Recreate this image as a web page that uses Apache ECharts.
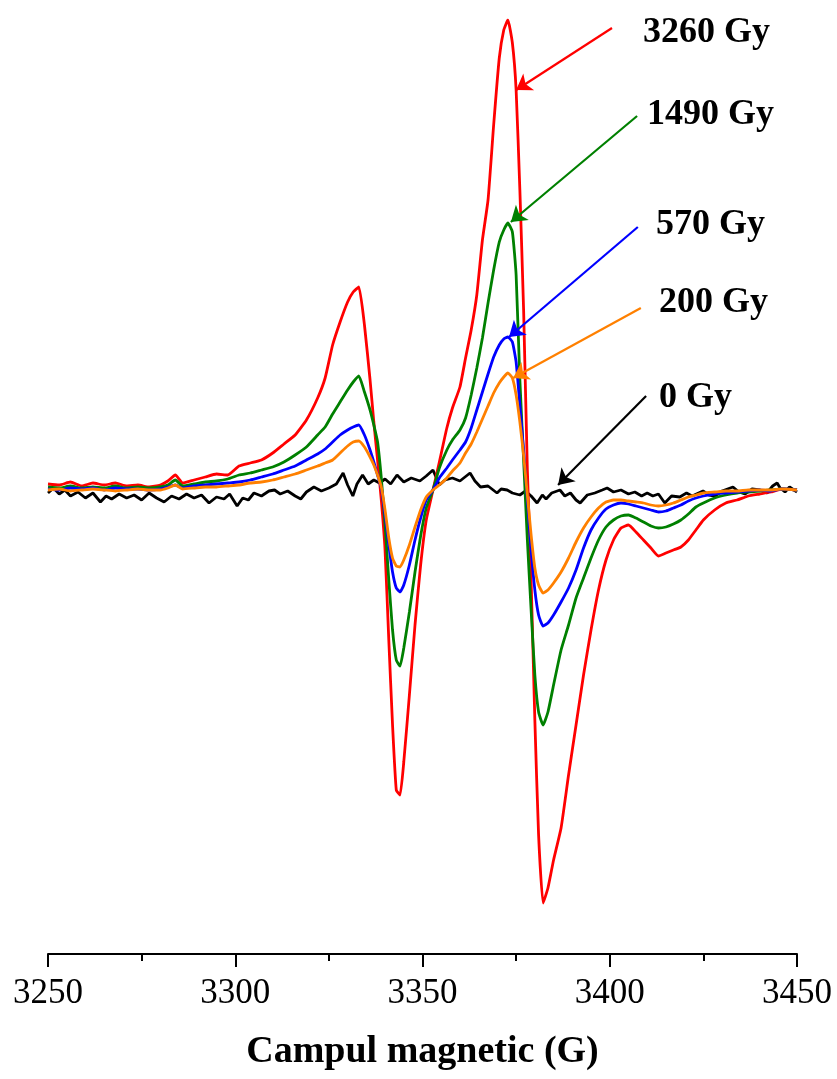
<!DOCTYPE html>
<html>
<head>
<meta charset="utf-8">
<script src="https://cdn.jsdelivr.net/npm/echarts@6/dist/echarts.min.js"></script>
<style>
html,body{margin:0;padding:0;background:#fff;}
#chart{width:837px;height:1079px;}
</style>
</head>
<body>
<div id="chart"></div>
<script>
// Magnetic field (G) for the irradiated samples
const field = [
  3250, 3253, 3256, 3259, 3262, 3265, 3268, 3271, 3274, 3277,
  3280, 3282, 3284, 3286, 3289, 3292, 3295, 3298, 3301, 3304,
  3307, 3310, 3313, 3316, 3319, 3322, 3324, 3326, 3328, 3330,
  3331.5, 3333, 3334.5, 3336, 3337, 3338, 3339, 3340, 3341, 3342,
  3343, 3344, 3345, 3346.5, 3348, 3349.5, 3351, 3352.8, 3354.5, 3356.5,
  3358, 3360, 3361.5, 3363, 3364.5, 3366, 3367.5, 3369, 3370.5, 3371.7,
  3372.8, 3374, 3375, 3376, 3377, 3378, 3379, 3380, 3381, 3382.2,
  3383.5, 3385, 3387, 3389, 3391, 3393, 3395, 3397, 3399, 3401,
  3403, 3405, 3407, 3409, 3411, 3413, 3415, 3417, 3419, 3421,
  3423, 3425, 3428, 3431, 3434, 3437, 3440, 3443, 3446, 3450
];
const dose3260 = [
  6, 5, 8, 4, 7, 5, 7, 4, 5, 3,
  5, 9, 15, 7, 10, 13, 16, 15, 24, 27,
  30, 37, 46, 55, 70, 92, 112, 145, 168, 188,
  198, 203, 165, 110, 68, 30, -10, -60, -150, -235,
  -300, -305, -272, -205, -135, -75, -30, 0, 28, 62,
  82, 103, 132, 160, 195, 250, 290, 365, 432, 460,
  470, 447, 400, 300, 180, 20, -90, -230, -345, -413,
  -398, -370, -338, -285, -235, -185, -140, -100, -70, -50,
  -38, -35, -42, -50, -58, -66, -63, -60, -57, -50,
  -40, -30, -20, -13, -10, -6, -4, -2, 1, 0
];
const dose1490 = [
  3, 2, 4, 2, 3, 2, 4, 2, 3, 2,
  3, 5, 10, 4, 6, 8, 9, 11, 15, 17,
  20, 23, 28, 35, 43, 55, 63, 76, 88, 100,
  108, 114, 98, 80, 65, 48, 12, -35, -90, -140,
  -170, -176, -158, -122, -82, -46, -18, 0, 22, 40,
  50, 60, 72, 95, 122, 152, 187, 220, 248, 260,
  267, 258, 215, 110, 30, -50, -120, -185, -222, -235,
  -222, -195, -160, -135, -108, -88, -68, -50, -37, -30,
  -26, -25, -28, -32, -36, -38, -37, -34, -30, -24,
  -17, -13, -8, -5, -3, -2, -1, 0, 1, 0
];
const dose570 = [
  1, 0, 2, 1, 2, 0, 2, 1, 1, 0,
  1, 3, 5, 2, 4, 5, 6, 7, 8, 10,
  13, 16, 20, 24, 30, 36, 41, 48, 55, 60,
  63, 65, 55, 40, 28, 15, 2, -25, -55, -82,
  -98, -102, -95, -75, -50, -28, -10, 0, 12, 22,
  30, 40, 48, 62, 80, 98, 116, 133, 145, 151,
  153, 148, 128, 85, 40, -10, -60, -100, -125, -136,
  -133, -125, -112, -98, -80, -58, -40, -28, -19, -15,
  -13, -14, -16, -18, -20, -22, -21, -18, -15, -11,
  -8, -6, -4, -3, -2, -1, 0, -1, 1, 0
];
const dose200 = [
  0, 1, -1, 0, 1, 0, -1, 0, 1, 0,
  0, 2, 5, 1, 2, 3, 3, 4, 5, 7,
  8, 10, 13, 16, 20, 24, 27, 30, 37, 44,
  48, 49, 43, 33, 25, 15, 3, -20, -48, -68,
  -76, -77, -70, -55, -37, -20, -7, 0, 5, 12,
  19, 27, 37, 46, 58, 71, 84, 97, 107, 113,
  117, 112, 95, 68, 35, -5, -45, -78, -95, -103,
  -100, -93, -82, -68, -52, -38, -27, -18, -12, -10,
  -10, -11, -12, -13, -15, -16, -15, -13, -10, -7,
  -5, -3, -2, -1, -1, 0, 0, 0, 1, 0
];
// Unirradiated sample (0 Gy) - noisy baseline
const field0 = [
  3250, 3251.5, 3253, 3254.5, 3256, 3258, 3260, 3262, 3264, 3265.5,
  3267, 3269, 3271, 3273, 3275, 3277, 3279, 3281, 3283, 3285,
  3287, 3289, 3291, 3293, 3295, 3297, 3298.5, 3300.5, 3302, 3303.5,
  3305, 3307, 3309, 3310.5, 3312, 3314, 3316, 3317.5, 3319, 3321,
  3323, 3325, 3327, 3328.8, 3330, 3331.4, 3332.5, 3334, 3335.5, 3337,
  3338.5, 3340, 3341.5, 3343.2, 3345, 3347, 3349.3, 3351, 3352.8, 3354.5,
  3356, 3358, 3360, 3362.7, 3364, 3365.5, 3367.5, 3369.9, 3371, 3372.6,
  3374, 3376, 3377.5, 3379, 3380.6, 3382, 3383, 3384.5, 3386.7, 3388,
  3389.5, 3391, 3392.1, 3394, 3396, 3398, 3399.3, 3401, 3403, 3405,
  3406.7, 3408.5, 3410, 3411.5, 3413, 3414.7, 3416.5, 3418.7, 3420.5, 3422,
  3424.9, 3426.5, 3428.1, 3430, 3432.9, 3434.5, 3436.1, 3438, 3440.1, 3442,
  3443.5, 3444.7, 3445.5, 3446.8, 3448, 3450
];
const dose0 = [
  -3, 2, -4, 0, -6, -2, -8, -3, -12, -6,
  -9, -4, -8, -5, -10, -3, -8, -12, -6, -9,
  -4, -8, -5, -13, -7, -9, -4, -16, -8, -10,
  -3, -6, -1, 0, -4, -1, -6, -9, -2, 3,
  -1, 2, 6, 17, 5, -6, 6, 15, 6, 10,
  7, 11, 6, 15, 8, 12, 9, 14, 20, 5,
  10, 12, 9, 17, 9, 3, 4, -3, 1, 0,
  -3, -5, -1, -6, -13, -5, -9, -3, 0, -6,
  -3, -10, -13, -5, -3, 0, 2, -2, 0, -4,
  -2, -6, -3, -6, -4, -13, -6, -7, -3, -6,
  -1, -5, -6, -1, 3, -2, -4, 1, 0, -3,
  4, 7, 2, -2, 3, -2
];
const xTicks = {min: 3250, max: 3450, interval: 50};
const labels = ['3260 Gy', '1490 Gy', '570 Gy', '200 Gy', '0 Gy'];

function pairs(xs, ys){ return xs.map((x, i) => [x, ys[i]]); }

const serif = '"Liberation Serif", "Times New Roman", serif';

function arrow(color, from, to){
  return {
    silent: true,
    symbol: ['none', 'arrow'],
    symbolSize: 15,
    label: {show: false},
    lineStyle: {color: color, width: 2.2, type: 'solid'},
    emphasis: {disabled: true},
    data: [[{coord: from}, {coord: to}]]
  };
}

function lineSeries(name, data, color, markLine, smooth){
  return {
    name: name, type: 'line', data: data, showSymbol: false,
    smooth: smooth,
    lineStyle: {color: color, width: 2.8}, itemStyle: {color: color},
    animation: false, silent: true, z: 2,
    markLine: markLine
  };
}

const chart = echarts.init(document.getElementById('chart'), null, {renderer: 'canvas'});
chart.setOption({
  backgroundColor: '#fff',
  animation: false,
  grid: {left: 48, right: 40, top: 20, bottom: 125},
  xAxis: {
    type: 'value', min: xTicks.min, max: xTicks.max, interval: xTicks.interval,
    name: 'Campul magnetic (G)', nameLocation: 'middle', nameGap: 79,
    nameTextStyle: {fontFamily: serif, fontWeight: 'bold', fontSize: 38, color: '#000'},
    axisLine: {onZero: false, lineStyle: {color: '#000', width: 2}},
    axisTick: {length: 13, lineStyle: {color: '#000', width: 2}},
    minorTick: {show: true, splitNumber: 2, length: 7, lineStyle: {color: '#000', width: 2}},
    axisLabel: {fontFamily: serif, fontSize: 35, color: '#000', margin: 22,
      formatter: v => String(v)},
    splitLine: {show: false}
  },
  yAxis: {type: 'value', min: -464, max: 470, show: false, splitLine: {show: false}},
  series: [
    lineSeries('0 Gy', pairs(field0, dose0), '#000000', arrow('#000000', [3409.7, 94], [3386.2, 5]), false),
    lineSeries('3260 Gy', pairs(field, dose3260), '#ff0000', arrow('#ff0000', [3400.6, 462], [3375.0, 400]), 0.15),
    lineSeries('1490 Gy', pairs(field, dose1490), '#008000', arrow('#008000', [3407.3, 374], [3373.6, 268]), 0.15),
    lineSeries('570 Gy', pairs(field, dose570), '#0000ff', arrow('#0000ff', [3407.5, 263], [3373.1, 153]), 0.15),
    lineSeries('200 Gy', pairs(field, dose200), '#ff8000', arrow('#ff8000', [3408.3, 182], [3374.2, 112]), 0.15)
  ],
  graphic: [
    {type: 'text', left: 643, top: 15, style: {text: labels[0], font: 'bold 36px ' + serif, fill: '#000'}},
    {type: 'text', left: 647, top: 97, style: {text: labels[1], font: 'bold 36px ' + serif, fill: '#000'}},
    {type: 'text', left: 656, top: 207, style: {text: labels[2], font: 'bold 36px ' + serif, fill: '#000'}},
    {type: 'text', left: 659, top: 285, style: {text: labels[3], font: 'bold 36px ' + serif, fill: '#000'}},
    {type: 'text', left: 659, top: 380, style: {text: labels[4], font: 'bold 36px ' + serif, fill: '#000'}}
  ]
});
</script>
</body>
</html>
